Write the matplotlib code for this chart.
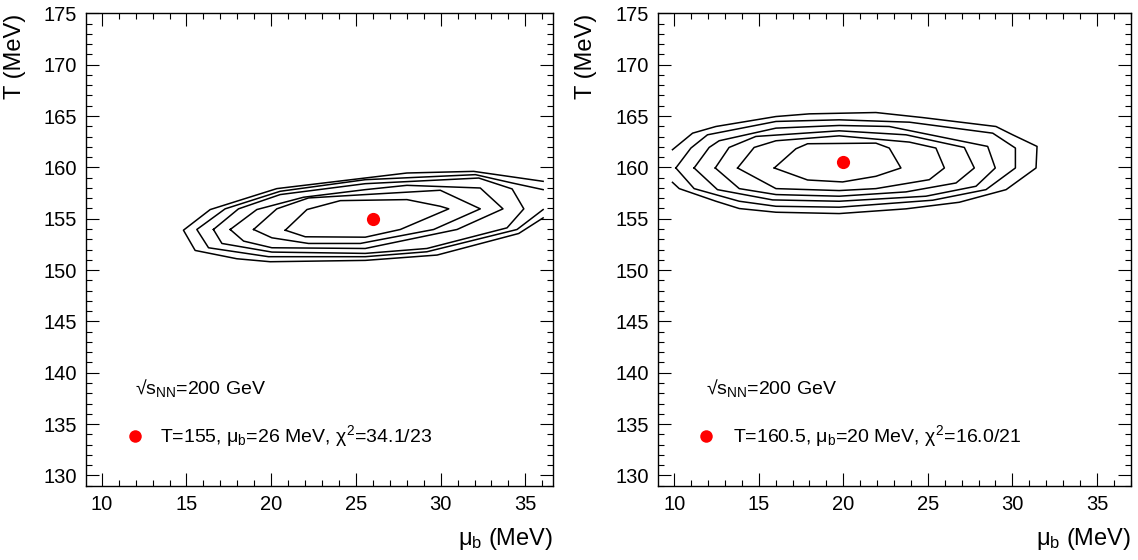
import matplotlib
matplotlib.use("Agg")
import matplotlib.pyplot as plt
from matplotlib.ticker import MultipleLocator

plt.rcParams['font.family'] = ['Liberation Sans', 'DejaVu Sans']
plt.rcParams['mathtext.fontset'] = 'custom'
plt.rcParams['mathtext.rm'] = 'Liberation Sans'
plt.rcParams['mathtext.it'] = 'Liberation Sans'
plt.rcParams['mathtext.bf'] = 'Liberation Sans:bold'

# chi2 contours, left panel (T=155 fit), outer to inner; mu_b and T in MeV
left_mu = [
    [36.05, 31.95, 28.01, 20.33, 16.40, 14.82, 15.51, 17.97, 19.94, 25.55, 29.79, 34.61, 36.05],
    [36.05, 34.22, 32.05, 25.55, 20.53, 17.28, 15.61, 16.30, 19.84, 25.55, 29.19, 34.51, 36.05],
    [16.59, 18.07, 20.53, 25.55, 32.25, 34.22, 34.91, 33.92, 29.19, 25.55, 20.04, 17.09, 16.59],
    [17.58, 19.15, 21.91, 25.55, 28.01, 32.34, 33.68, 30.97, 25.55, 20.04, 18.37, 17.58],
    [18.96, 20.33, 22.20, 25.55, 29.98, 32.34, 29.59, 25.26, 22.20, 20.04, 18.96],
    [20.83, 22.11, 24.08, 28.01, 29.98, 30.48, 27.62, 25.55, 22.01, 20.83],
]
left_T = [
    [158.64, 159.61, 159.45, 157.93, 155.89, 153.88, 151.91, 151.10, 150.81, 150.94, 151.46, 153.56, 155.08],
    [157.83, 158.48, 159.29, 158.80, 157.67, 155.96, 153.95, 152.17, 151.30, 151.30, 151.78, 153.95, 155.89],
    [153.95, 155.96, 157.35, 158.41, 158.96, 157.90, 155.96, 154.11, 152.10, 151.62, 151.75, 152.59, 153.95],
    [153.95, 155.89, 157.09, 157.83, 158.25, 157.99, 155.96, 153.95, 152.10, 152.17, 152.82, 153.95],
    [153.95, 155.96, 157.02, 157.35, 157.77, 155.96, 153.95, 152.59, 152.59, 153.14, 153.95],
    [153.88, 155.89, 156.76, 156.86, 156.21, 155.96, 153.95, 153.20, 153.24, 153.88],
]

# right panel (T=160.5 fit)
right_mu = [
    [9.90, 11.09, 12.47, 16.02, 17.99, 21.93, 24.69, 29.03, 30.02, 31.46, 31.40, 29.63, 26.86, 23.71, 19.76, 16.02, 13.85, 12.47, 10.30, 9.90],
    [10.10, 10.99, 11.97, 16.02, 19.76, 23.91, 28.84, 30.18, 30.18, 28.44, 25.29, 19.76, 16.02, 13.85, 11.18, 10.10],
    [11.18, 12.07, 12.66, 16.02, 19.76, 22.72, 28.54, 28.99, 27.85, 24.89, 19.76, 15.82, 12.56, 11.18],
    [12.43, 13.25, 14.83, 19.76, 23.71, 27.16, 27.75, 26.67, 23.71, 19.76, 16.02, 13.85, 12.43],
    [13.75, 14.73, 16.02, 19.76, 23.91, 25.48, 25.98, 25.09, 21.93, 19.76, 16.02, 13.75],
    [15.92, 17.20, 17.89, 21.93, 22.72, 23.41, 21.93, 19.96, 17.89, 15.92],
]
right_T = [
    [161.72, 163.33, 163.98, 164.95, 165.21, 165.34, 164.85, 163.98, 163.17, 162.04, 159.94, 157.83, 156.60, 155.96, 155.50, 155.63, 155.99, 156.70, 157.93, 158.54],
    [159.94, 161.88, 163.17, 164.47, 164.63, 164.40, 163.33, 161.88, 159.94, 157.83, 156.80, 156.12, 156.21, 156.70, 157.93, 159.94],
    [159.94, 161.94, 162.59, 163.82, 164.08, 163.98, 162.04, 159.94, 158.16, 157.19, 156.70, 156.83, 157.83, 159.94],
    [159.94, 161.94, 163.01, 163.56, 163.17, 161.94, 159.94, 158.48, 157.61, 157.19, 157.35, 157.93, 159.94],
    [159.94, 161.94, 162.59, 163.07, 162.46, 161.88, 159.94, 158.80, 157.93, 157.74, 157.93, 159.94],
    [159.94, 161.81, 162.30, 162.36, 161.88, 159.94, 159.13, 158.58, 158.77, 159.94],
]

left_fit = (26, 155)
right_fit = (20, 160.5)
energy_label = r'√$s_{\mathrm{NN}}$=200 GeV'
left_legend = r'T=155, $\mu_{b}$=26 MeV, $\chi^{2}$=34.1/23'
right_legend = r'T=160.5, $\mu_{b}$=20 MeV, $\chi^{2}$=16.0/21'

fig = plt.figure(figsize=(11.38, 5.6), dpi=100)
ax1 = fig.add_axes([0.0753, 0.1327, 0.4109, 0.8435])
ax2 = fig.add_axes([0.578, 0.1327, 0.4156, 0.8435])


def draw_panel(ax, mus, Ts, fit, legend, xlim, txt_x, leg_x):
    for mu, T in zip(mus, Ts):
        ax.plot(mu, T, color='black', lw=1.1)
    ax.plot(fit[0], fit[1], 'o', color='red', ms=9.5, mec='none')
    ax.set_xlim(*xlim)
    ax.set_ylim(129, 175)
    ax.xaxis.set_major_locator(MultipleLocator(5))
    ax.xaxis.set_minor_locator(MultipleLocator(1))
    ax.yaxis.set_major_locator(MultipleLocator(5))
    ax.yaxis.set_minor_locator(MultipleLocator(1))
    ax.tick_params(which='both', direction='in', top=True, right=True,
                   width=0.8, labelsize=14.5)
    ax.tick_params(which='major', length=9.5, pad=6.5)
    ax.tick_params(which='minor', length=4.5)
    for s in ax.spines.values():
        s.set_linewidth(1.0)
    ax.set_xlabel(r'$\mu_{b}$ (MeV)', fontsize=17, ha='right')
    ax.xaxis.set_label_coords(1.0, -0.085)
    ax.set_ylabel('T (MeV)', fontsize=17, ha='right')
    ax.yaxis.set_label_coords(-0.128, 1.0)
    ax.text(txt_x, 137.96, energy_label, fontsize=14, va='baseline')
    ax.plot(txt_x, 133.8, 'o', color='red', ms=9, mec='none')
    ax.text(leg_x, 133.2, legend, fontsize=14, va='baseline')


draw_panel(ax1, left_mu, left_T, left_fit, left_legend, (9.05, 36.65), 11.95, 13.45)
draw_panel(ax2, right_mu, right_T, right_fit, right_legend, (9.03, 37.0), 11.9, 13.45)

fig.savefig('out.png', dpi=100)
